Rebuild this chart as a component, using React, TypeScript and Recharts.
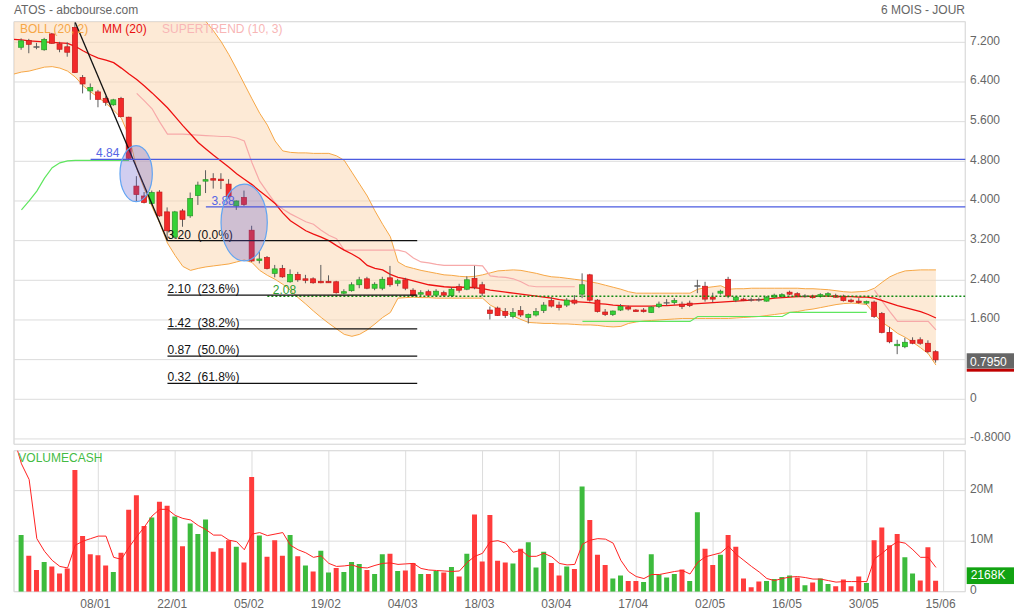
import React from 'react';
import {
  ComposedChart, Bar, Line, Area, XAxis, YAxis, CartesianGrid, ReferenceLine, ReferenceArea, Cell,
} from 'recharts';

const _ = null;

// x axis: one slot per trading session, labels every 10 sessions
const DATES = ['08/01', '22/01', '05/02', '19/02', '04/03', '18/03', '03/04', '17/04', '02/05', '16/05', '30/05', '15/06'];
const DATE_IDX = [10, 20, 30, 40, 50, 60, 70, 80, 90, 100, 110, 120];
const PRICE_TICKS = [-0.8, 0, 0.8, 1.6, 2.4, 3.2, 4.0, 4.8, 5.6, 6.4, 7.2];
const VOL_TICKS = [0, 10, 20];

// candles (sessions 0..119)
const OPEN = [
  7.10, 7.24, 7.11, 7.05, 7.37, 7.17, 7.11, 7.50, 6.49, 6.22,
  6.20, 6.07, 5.94, 6.07, 5.69, 4.30, 4.10, 3.95, 4.18, 3.78,
  3.27, 3.80, 3.70, 4.11, 4.41, 4.45, 4.44, 4.34, 3.90, 4.07,
  3.41, 2.80, 2.86, 2.54, 2.64, 2.37, 2.52, 2.43, 2.43, 2.38,
  2.38, 2.37, 2.14, 2.19, 2.31, 2.43, 2.24, 2.24, 2.45, 2.34,
  2.41, 2.20, 2.12, 2.17, 2.10, 2.15, 2.09, 2.27, 2.22, 2.44,
  2.31, 1.80, 1.84, 1.77, 1.67, 1.79, 1.65, 1.70, 1.79, 1.99,
  1.90, 1.90, 2.00, 2.12, 2.51, 2.00, 1.76, 1.71, 1.80, 1.86,
  1.80, 1.80, 1.75, 1.87, 1.94, 1.95, 1.92, 1.94, 2.28, 2.28,
  2.06, 2.14, 2.42, 2.00, 2.02, 2.01, 2.00, 1.98, 2.06, 2.08,
  2.16, 2.13, 2.08, 2.08, 2.07, 2.10, 2.09, 2.08, 2.00, 1.98,
  1.94, 1.96, 1.73, 1.35, 1.08, 1.06, 1.19, 1.20, 1.13, 0.96,
];
const HIGH = [
  7.28, 7.27, 7.19, 7.29, 7.39, 7.21, 7.20, 7.60, 6.54, 6.37,
  6.24, 6.11, 6.06, 6.10, 5.70, 4.50, 4.18, 4.21, 4.22, 3.87,
  3.80, 3.84, 4.17, 4.39, 4.62, 4.56, 4.56, 4.44, 4.01, 4.21,
  3.50, 2.98, 2.89, 2.71, 2.71, 2.62, 2.57, 2.51, 2.46, 2.71,
  2.50, 2.39, 2.22, 2.36, 2.47, 2.47, 2.36, 2.47, 2.69, 2.43,
  2.45, 2.24, 2.20, 2.21, 2.22, 2.19, 2.26, 2.33, 2.48, 2.69,
  2.37, 1.87, 1.87, 1.84, 1.84, 1.88, 1.73, 1.84, 1.96, 2.06,
  1.97, 2.04, 2.10, 2.54, 2.53, 2.02, 1.82, 1.79, 1.92, 1.89,
  1.82, 1.84, 1.88, 1.97, 2.02, 2.04, 1.97, 1.99, 2.41, 2.37,
  2.15, 2.21, 2.47, 2.07, 2.05, 2.05, 2.05, 2.08, 2.13, 2.14,
  2.19, 2.16, 2.12, 2.11, 2.14, 2.16, 2.13, 2.11, 2.03, 2.04,
  1.99, 1.99, 1.76, 1.46, 1.20, 1.24, 1.25, 1.25, 1.19, 0.99,
];
const LOW = [
  7.05, 6.98, 7.06, 7.03, 7.17, 7.00, 6.91, 6.58, 6.17, 6.04,
  5.89, 5.92, 5.92, 5.69, 4.84, 3.99, 3.95, 3.93, 3.68, 3.20,
  3.24, 3.48, 3.66, 3.92, 4.16, 4.25, 4.24, 4.05, 3.82, 3.90,
  2.77, 2.74, 2.62, 2.46, 2.45, 2.35, 2.37, 2.34, 2.33, 2.34,
  2.35, 2.13, 2.12, 2.17, 2.24, 2.22, 2.20, 2.20, 2.27, 2.28,
  2.20, 2.07, 2.08, 2.08, 2.08, 2.07, 2.06, 2.15, 2.20, 2.22,
  2.08, 1.61, 1.68, 1.64, 1.63, 1.66, 1.53, 1.67, 1.74, 1.85,
  1.79, 1.86, 1.91, 2.04, 1.97, 1.75, 1.68, 1.68, 1.78, 1.79,
  1.77, 1.75, 1.74, 1.84, 1.89, 1.91, 1.82, 1.86, 2.14, 1.97,
  1.96, 2.11, 2.04, 1.96, 1.98, 1.97, 1.97, 1.97, 2.04, 2.05,
  2.10, 2.06, 2.05, 2.03, 2.05, 2.08, 2.05, 1.97, 1.95, 1.93,
  1.91, 1.64, 1.33, 1.13, 0.91, 1.03, 1.11, 1.10, 0.93, 0.74,
];
const CLOSE = [
  7.23, 7.16, 7.10, 7.26, 7.18, 7.06, 7.00, 6.59, 6.36, 6.29,
  6.05, 5.99, 6.04, 5.70, 4.86, 4.13, 3.97, 4.17, 3.70, 3.40,
  3.78, 3.63, 4.05, 4.32, 4.43, 4.43, 4.41, 4.09, 4.00, 3.93,
  2.79, 2.83, 2.64, 2.63, 2.47, 2.52, 2.41, 2.41, 2.35, 2.36,
  2.36, 2.15, 2.17, 2.31, 2.41, 2.24, 2.32, 2.42, 2.31, 2.39,
  2.24, 2.10, 2.15, 2.10, 2.18, 2.10, 2.22, 2.20, 2.41, 2.26,
  2.14, 1.73, 1.69, 1.69, 1.75, 1.70, 1.71, 1.77, 1.90, 1.88,
  1.85, 2.00, 1.94, 2.31, 2.00, 1.77, 1.71, 1.78, 1.87, 1.82,
  1.78, 1.77, 1.86, 1.92, 1.95, 1.99, 1.87, 1.89, 2.29, 2.02,
  2.02, 2.18, 2.08, 2.06, 1.99, 2.00, 2.01, 2.06, 2.10, 2.11,
  2.12, 2.08, 2.08, 2.05, 2.11, 2.13, 2.06, 1.99, 1.97, 1.95,
  1.97, 1.67, 1.35, 1.16, 1.11, 1.15, 1.13, 1.13, 0.96, 0.795,
];

// indicators, sessions -1..119 (first value sits just left of the first candle)
const BOLL_UP = [
  7.96,
  7.90, 7.84, 7.78, 7.72, 7.69, 7.70, 7.74, 7.74, 7.73, 7.70,
  7.67, 7.71, 7.75, 7.71, 7.87, 8.35, 8.39, 8.44, 8.51, 8.56,
  8.48, 8.34, 8.10, 7.80, 7.62, 7.43, 7.21, 6.95, 6.66, 6.36,
  6.06, 5.77, 5.53, 5.21, 5.01, 4.98, 4.97, 4.97, 4.96, 4.96,
  4.96, 4.91, 4.82, 4.58, 4.34, 4.10, 3.80, 3.53, 3.28, 2.77,
  2.68, 2.64, 2.60, 2.57, 2.54, 2.51, 2.50, 2.48, 2.47, 2.48,
  2.51, 2.55, 2.59, 2.60, 2.61, 2.60, 2.57, 2.54, 2.50, 2.47,
  2.46, 2.44, 2.42, 2.40, 2.37, 2.34, 2.30, 2.26, 2.22, 2.17,
  2.14, 2.14, 2.14, 2.14, 2.14, 2.14, 2.14, 2.14, 2.22, 2.25,
  2.27, 2.29, 2.22, 2.23, 2.23, 2.24, 2.24, 2.24, 2.24, 2.24,
  2.24, 2.24, 2.23, 2.23, 2.22, 2.21, 2.19, 2.17, 2.16, 2.17,
  2.18, 2.24, 2.36, 2.47, 2.54, 2.59, 2.60, 2.61, 2.61, 2.61,
];
const BOLL_LOW = [
  6.56,
  6.60, 6.62, 6.66, 6.70, 6.71, 6.68, 6.62, 6.50, 6.33, 6.20,
  6.09, 5.97, 5.83, 5.67, 5.31, 4.65, 4.24, 3.88, 3.55, 3.15,
  2.90, 2.68, 2.60, 2.64, 2.67, 2.69, 2.71, 2.73, 2.77, 2.81,
  2.76, 2.60, 2.50, 2.42, 2.32, 2.20, 2.05, 1.92, 1.78, 1.65,
  1.53, 1.42, 1.31, 1.27, 1.31, 1.40, 1.52, 1.65, 1.75, 2.04,
  2.05, 2.06, 2.05, 2.05, 2.04, 2.04, 2.04, 2.04, 2.04, 2.04,
  2.04, 1.90, 1.82, 1.75, 1.68, 1.61, 1.55, 1.54, 1.53, 1.53,
  1.52, 1.52, 1.51, 1.50, 1.50, 1.49, 1.47, 1.46, 1.47, 1.53,
  1.56, 1.58, 1.59, 1.60, 1.61, 1.62, 1.63, 1.63, 1.63, 1.63,
  1.63, 1.63, 1.63, 1.64, 1.65, 1.66, 1.67, 1.69, 1.71, 1.73,
  1.75, 1.77, 1.80, 1.82, 1.85, 1.88, 1.91, 1.93, 1.94, 1.93,
  1.91, 1.72, 1.55, 1.45, 1.33, 1.25, 1.15, 1.04, 0.92, 0.69,
];
const MM20 = [
  7.26,
  7.25, 7.23, 7.22, 7.21, 7.20, 7.19, 7.18, 7.12, 7.03, 6.95,
  6.88, 6.84, 6.79, 6.68, 6.56, 6.45, 6.32, 6.18, 6.03, 5.88,
  5.70, 5.52, 5.35, 5.18, 5.05, 4.92, 4.80, 4.68, 4.55, 4.44,
  4.33, 4.20, 4.08, 3.95, 3.76, 3.60, 3.50, 3.40, 3.33, 3.27,
  3.20, 3.10, 3.01, 2.93, 2.84, 2.70, 2.64, 2.61, 2.52, 2.46,
  2.43, 2.39, 2.35, 2.31, 2.29, 2.27, 2.26, 2.26, 2.26, 2.25,
  2.23, 2.20, 2.18, 2.16, 2.14, 2.12, 2.10, 2.08, 2.06, 2.04,
  2.01, 1.99, 1.97, 1.96, 1.95, 1.93, 1.92, 1.90, 1.89, 1.88,
  1.88, 1.88, 1.88, 1.89, 1.89, 1.90, 1.91, 1.92, 1.93, 1.94,
  1.95, 1.96, 1.97, 1.98, 1.99, 2.00, 2.01, 2.02, 2.04, 2.05,
  2.06, 2.07, 2.07, 2.08, 2.08, 2.08, 2.07, 2.07, 2.07, 2.06,
  2.06, 2.04, 1.99, 1.94, 1.89, 1.85, 1.81, 1.77, 1.71, 1.64,
];

// supertrend (sessions 0..119), bullish and bearish legs
const ST_GREEN = [
  3.82, 4.00, 4.20, 4.46, 4.67, 4.77, 4.81, 4.82, 4.82, 4.82,
  4.82, 4.82, 4.82, 4.82, 4.82, _, _, _, _, _,
  _, _, _, _, _, _, _, _, _, _,
  _, _, _, _, _, _, _, _, _, _,
  _, _, _, _, _, _, _, _, _, _,
  _, _, _, _, _, _, _, _, _, _,
  _, _, _, _, _, _, _, _, _, _,
  _, _, _, 1.57, 1.57, 1.57, 1.57, 1.57, 1.57, 1.57,
  1.57, 1.57, 1.57, 1.57, 1.57, 1.57, 1.57, 1.57, 1.67, 1.67,
  1.67, 1.67, 1.67, 1.67, 1.67, 1.67, 1.67, 1.67, 1.67, 1.67,
  1.755, 1.755, 1.755, 1.755, 1.755, 1.755, 1.755, 1.755, 1.755, 1.755,
  1.755, _, _, _, _, _, _, _, _, _,
];
const ST_PINK = [
  _, _, _, _, _, _, _, _, _, _,
  _, _, _, _, _, 6.17, 6.02, 5.86, 5.59, 5.35,
  5.35, 5.35, 5.34, 5.33, 5.32, 5.31, 5.30, 5.30, 5.27, 5.21,
  4.77, 4.40, 4.18, 3.96, 3.84, 3.74, 3.66, 3.58, 3.53, 3.41,
  3.31, 3.24, 3.01, 3.01, 3.01, 3.01, 3.01, 3.01, 3.01, 3.01,
  2.97, 2.85, 2.77, 2.75, 2.72, 2.70, 2.70, 2.70, 2.70, 2.70,
  2.69, 2.49, 2.47, 2.46, 2.43, 2.37, 2.29, 2.27, 2.27, 2.27,
  2.27, 2.27, 2.27, _, _, _, _, _, _, _,
  _, _, _, _, _, _, _, _, _, _,
  _, _, _, _, _, _, _, _, _, _,
  _, _, _, _, _, _, _, _, _, _,
  _, 2.20, 1.98, 1.77, 1.57, 1.57, 1.57, 1.57, 1.57, 1.40,
];

// volume in millions (sessions 0..119) and its colour, g = up, r = down
const VOLUME = [
  11.2, 7.1, 4.3, 5.9, 5.0, 3.6, 4.6, 24.1, 11.0, 7.4,
  7.2, 5.2, 3.9, 7.7, 16.2, 19.1, 13.0, 14.7, 17.8, 17.0,
  14.9, 9.0, 13.5, 11.4, 14.3, 7.9, 8.6, 10.2, 8.9, 5.8,
  22.7, 11.1, 6.9, 10.2, 7.1, 11.2, 7.0, 5.2, 4.0, 8.1,
  3.8, 4.7, 3.9, 5.9, 5.5, 4.3, 3.5, 7.4, 7.5, 4.1,
  4.2, 5.7, 3.5, 3.5, 4.1, 3.8, 4.9, 3.0, 7.5, 15.3,
  6.0, 15.2, 6.1, 5.8, 5.6, 8.5, 9.8, 4.8, 7.9, 5.7,
  3.2, 5.0, 4.5, 20.8, 14.2, 7.3, 5.3, 2.6, 3.2, 2.1,
  2.1, 1.9, 7.4, 3.4, 2.8, 3.5, 4.4, 2.1, 15.7, 8.5,
  5.3, 7.3, 11.2, 8.9, 2.6, 0.9, 2.0, 2.1, 2.5, 2.9,
  3.2, 2.8, 1.3, 1.8, 2.6, 1.5, 1.1, 2.4, 1.1, 3.0,
  1.7, 10.2, 12.7, 9.2, 11.4, 6.8, 3.6, 2.2, 8.8, 2.168,
];
const VOL_DIR = (
  'grrgrrrrrr' + 'rrgrrrrgrr' + 'grgggrrrgr' + 'rgrrrgrgrg' +
  'grgggrggrg' + 'rrgrgrgrgr' + 'rrrrgrgggr' + 'rgrgrrrggr' +
  'rgggggrggr' + 'rgrrrrrggg' + 'grgrggrrrr' + 'grrrrggrrr'
).split('');
// volume average line, sessions -1..119
const VOL_MA = [
  30.5,
  25.3, 22.2, 10.5, 8.0, 6.2, 5.0, 4.7, 9.2, 10.0, 10.5,
  11.0, 11.0, 6.8, 6.4, 8.8, 10.9, 12.8, 15.0, 16.3, 16.3,
  15.1, 14.5, 14.2, 13.1, 12.3, 11.2, 11.2, 10.2, 9.9, 8.3,
  11.4, 11.7, 11.1, 11.4, 11.7, 9.2, 8.3, 7.7, 6.8, 7.1,
  5.6, 5.0, 5.1, 5.3, 4.8, 4.7, 5.2, 5.6, 5.7, 5.4,
  5.5, 5.6, 4.6, 4.3, 4.2, 4.1, 4.0, 4.1, 5.8, 7.0,
  7.6, 9.9, 10.1, 9.6, 7.8, 8.2, 7.0, 7.0, 7.6, 6.9,
  5.6, 5.3, 5.4, 9.4, 10.2, 10.5, 10.4, 9.6, 6.2, 4.0,
  3.0, 2.6, 3.4, 3.4, 3.7, 4.0, 4.2, 3.5, 5.8, 6.9,
  7.3, 7.7, 9.0, 7.4, 6.2, 5.0, 3.9, 2.6, 2.2, 2.6,
  2.9, 3.0, 2.8, 2.5, 2.5, 2.2, 1.9, 2.0, 2.0, 2.0,
  2.0, 6.5, 7.6, 8.9, 9.9, 9.6, 8.3, 6.8, 6.8, 4.8,
];

// drawings on the price panel (data units)
const TREND = [{ x: 7, y: 7.6 }, { x: 19, y: 3.2 }];
const FIB_LEVELS = [3.20, 2.10, 1.42, 0.87, 0.32];
const FIB_PCT = ['0.0%', '23.6%', '38.2%', '50.0%', '61.8%'];
const FIB_FROM = 19;
const FIB_TO = 51.5;
const BLUE_LEVELS = [4.84, 3.88];
const BLUE_FROM = [9, 24];
const GREEN_LEVEL = 2.08;
const GREEN_FROM = 32;
const ELLIPSES = [
  { x1: 12.82, x2: 17.03, y1: 3.985, y2: 5.115 },
  { x1: 25.97, x2: 31.99, y1: 2.79, y2: 4.34 },
];

const X_MIN = -0.97;
const X_MAX = 122.82;
const P_MIN = -0.908;
const P_MAX = 7.616;
const V_MAX = 27.9;

const N = CLOSE.length;
const rows: any[] = [];
for (let k = -1; k < N; k++) {
  const j = k + 1;
  const r: any = { i: k, up: BOLL_UP[j], lo: BOLL_LOW[j], band: [BOLL_LOW[j], BOLL_UP[j]], mm: MM20[j], volMa: VOL_MA[j] };
  if (k >= 0) {
    r.o = OPEN[k]; r.h = HIGH[k]; r.l = LOW[k]; r.c = CLOSE[k];
    r.range = [LOW[k], HIGH[k]];
    r.stG = ST_GREEN[k]; r.stP = ST_PINK[k];
    r.vol = VOLUME[k]; r.volUp = VOL_DIR[k] === 'g';
  }
  rows.push(r);
}

const GRID = '#dcdcdc';
const TXT = '#666';
const FONT = '"Liberation Sans", Arial, sans-serif';

function Candle(props: any) {
  const { x, y, width, height, payload } = props;
  if (!payload || payload.h == null || !height) return <g />;
  const top0 = height < 0 ? y + height : y;
  const hh = Math.abs(height);
  const { o, h, l, c } = payload;
  const k = hh / (h - l);
  const py = (v: number) => top0 + (h - v) * k;
  const mid = x + width / 2;
  const top = py(Math.max(o, c));
  const bot = py(Math.min(o, c));
  const flat = Math.abs(c - o) < 0.015;
  const up = c > o;
  return (
    <g>
      <line x1={mid} x2={mid} y1={top0} y2={top0 + hh} stroke="#5c5c5c" strokeWidth={1} />
      {flat ? (
        <line x1={x - 0.5} x2={x + width + 0.5} y1={(top + bot) / 2} y2={(top + bot) / 2} stroke="#5c5c5c" strokeWidth={1.4} />
      ) : (
        <rect x={x} y={top} width={width} height={Math.max(bot - top, 1.5)}
          fill={up ? '#36d136' : '#f22a2a'} stroke={up ? '#269a26' : '#c41818'} strokeWidth={0.7} />
      )}
    </g>
  );
}

function fmtPrice(v: number) {
  if (v === 0) return '0';
  if (v < 0) return v.toFixed(4);
  return v.toFixed(3);
}

const PriceTick = (p: any) => {
  const v = p.payload.value;
  // the 0.800 label sits behind the last-price badge
  if (Math.abs(v - 0.8) < 1e-6) return <g />;
  return <text x={p.x + 4.7} y={p.y + 2.3} fill={TXT} fontSize={12}>{fmtPrice(v)}</text>;
};

const VolTick = (p: any) => {
  const v = p.payload.value;
  return <text x={p.x + 4.7} y={p.y + 2.3} fill={TXT} fontSize={12}>{v === 0 ? '0' : `${v}M`}</text>;
};

const DateTick = (p: any) => {
  const idx = DATE_IDX.indexOf(p.payload.value);
  return <text x={p.x - 3} y={p.y + 16.2} textAnchor="middle" fill={TXT} fontSize={12}>{DATES[idx]}</text>;
};

const EllipseShape = (p: any) => (
  <ellipse cx={p.x + p.width / 2} cy={p.y + p.height / 2} rx={Math.abs(p.width) / 2} ry={Math.abs(p.height) / 2}
    fill="#5a50c8" fillOpacity={0.28} stroke="#62a4f2" strokeWidth={1.2} />
);

const lastLabel = (p: any) => {
  const vb = p.viewBox;
  const x0 = vb.x + vb.width + 1.4;
  return (
    <g>
      <rect x={x0} y={vb.y - 6.6} width={48} height={15.4} fill="#666" />
      <rect x={x0} y={vb.y + 9} width={48} height={2.8} fill="#c00000" />
      <text x={x0 + 3.4} y={vb.y + 6.1} fill="#fff" fontSize={12}>{CLOSE[N - 1].toFixed(4)}</text>
    </g>
  );
};

const volLabel = (p: any) => {
  const vb = p.viewBox;
  const x0 = vb.x + vb.width + 1.4;
  return (
    <g>
      <rect x={x0} y={vb.y - 13.4} width={48} height={16.7} fill="#12a312" />
      <text x={x0 + 4} y={vb.y - 1.4} fill="#fff" fontSize={12}>{`${Math.round(VOLUME[N - 1] * 1000)}K`}</text>
    </g>
  );
};

const levelLabel = (text: string, color: string) => (p: any) => (
  <text x={p.viewBox.x + 5.5} y={p.viewBox.y - 2.2} fill={color} fontSize={12} style={{ whiteSpace: 'pre' }}>{text}</text>
);

const fibLabel = (text: string) => (p: any) => (
  <text x={p.viewBox.x} y={p.viewBox.y - 2} fill="#111" fontSize={12} style={{ whiteSpace: 'pre' }}>{text}</text>
);

export default function App() {
  return (
    <div style={{ position: 'absolute', left: 0, top: 0, width: 1014, height: 614, background: '#fff', fontFamily: FONT }}>
      <div style={{ position: 'absolute', left: 0, top: 0 }}>
        <ComposedChart width={1014} height={446} data={rows} margin={{ top: 21.7, right: 0, bottom: 1.7, left: 14 }}>
          <CartesianGrid stroke={GRID} />
          <XAxis dataKey="i" type="number" domain={[X_MIN, X_MAX]} allowDataOverflow ticks={DATE_IDX} interval={0}
            height={0} tick={false} axisLine={false} tickLine={false} />
          <YAxis orientation="right" domain={[P_MIN, P_MAX]} allowDataOverflow ticks={PRICE_TICKS} interval={0}
            width={48.7} tickSize={0} tickMargin={0} axisLine={false} tickLine={false} tick={<PriceTick />} />
          <ReferenceArea x1={X_MIN} x2={X_MAX} y1={P_MIN} y2={P_MAX} fill="none" stroke={GRID} ifOverflow="visible" />

          <Area dataKey="band" stroke="none" fill="#fbd9b5" fillOpacity={0.55} isAnimationActive={false} zIndex={100} />
          <Line dataKey="up" stroke="#f6a746" strokeWidth={1} dot={false} isAnimationActive={false} zIndex={200} />
          <Line dataKey="lo" stroke="#f6a746" strokeWidth={1} dot={false} isAnimationActive={false} zIndex={200} />
          <Line dataKey="stP" stroke="#f7a9a9" strokeWidth={1.2} dot={false} isAnimationActive={false} zIndex={200} />
          <Line dataKey="stG" stroke="#5fe65f" strokeWidth={1.2} dot={false} isAnimationActive={false} zIndex={200} />
          <Line dataKey="mm" stroke="#ee1111" strokeWidth={1.3} dot={false} isAnimationActive={false} zIndex={200} />
          <Bar dataKey="range" barSize={5} shape={<Candle />} isAnimationActive={false} zIndex={300} />

          <ReferenceLine segment={[{ x: GREEN_FROM, y: GREEN_LEVEL }, { x: X_MAX + 5, y: GREEN_LEVEL }]}
            stroke="#138a13" strokeWidth={1.5} strokeDasharray="2 2" ifOverflow="hidden"
            label={levelLabel(GREEN_LEVEL.toFixed(2), '#2e9e2e')} zIndex={400} />
          {FIB_LEVELS.map((v, n) => (
            <ReferenceLine key={`f${n}`} segment={[{ x: FIB_FROM, y: v }, { x: FIB_TO, y: v }]}
              stroke="#111" strokeWidth={1.2} ifOverflow="hidden"
              label={fibLabel(`${v.toFixed(2)}  (${FIB_PCT[n]})`)} zIndex={400} />
          ))}
          <ReferenceLine segment={TREND} stroke="#111" strokeWidth={1.3} ifOverflow="hidden" zIndex={400} />
          {BLUE_LEVELS.map((v, n) => (
            <ReferenceLine key={`b${n}`} segment={[{ x: BLUE_FROM[n], y: v }, { x: X_MAX + 5, y: v }]}
              stroke="#4a5ae0" strokeWidth={1.2} ifOverflow="hidden"
              label={levelLabel(v.toFixed(2), '#5565e5')} zIndex={400} />
          ))}
          {ELLIPSES.map((e, n) => (
            <ReferenceArea key={`e${n}`} x1={e.x1} x2={e.x2} y1={e.y1} y2={e.y2} shape={EllipseShape} ifOverflow="visible" zIndex={500} />
          ))}
          <ReferenceLine y={CLOSE[N - 1]} stroke="none" label={lastLabel} zIndex={600} />
        </ComposedChart>
      </div>

      <div style={{ position: 'absolute', left: 0, top: 446 }}>
        <ComposedChart width={1014} height={168} data={rows} margin={{ top: 4.7, right: 0, bottom: 0, left: 14 }}>
          <CartesianGrid stroke={GRID} />
          <XAxis dataKey="i" type="number" domain={[X_MIN, X_MAX]} allowDataOverflow ticks={DATE_IDX} interval={0}
            height={22.3} tickSize={0} tickMargin={0} axisLine={false} tickLine={false} tick={<DateTick />} />
          <YAxis orientation="right" domain={[0, V_MAX]} allowDataOverflow ticks={VOL_TICKS} interval={0}
            width={48.7} tickSize={0} tickMargin={0} axisLine={false} tickLine={false} tick={<VolTick />} />
          <ReferenceArea x1={X_MIN} x2={X_MAX} y1={0} y2={V_MAX} fill="none" stroke={GRID} ifOverflow="visible" />
          <Bar dataKey="vol" barSize={5} isAnimationActive={false}>
            {rows.map((r) => (
              <Cell key={r.i} fill={r.volUp ? '#3dbb3d' : '#ff3c3c'} />
            ))}
          </Bar>
          <Line dataKey="volMa" stroke="#ff2222" strokeWidth={1} dot={false} isAnimationActive={false} />
          <ReferenceLine y={VOLUME[N - 1]} stroke="none" label={volLabel} />
        </ComposedChart>
      </div>

      <svg width={1014} height={614} style={{ position: 'absolute', left: 0, top: 0, pointerEvents: 'none' }}>
        <text x={14} y={13.6} fill={TXT} fontSize={12}>ATOS - abcbourse.com</text>
        <text x={965} y={13.6} fill={TXT} fontSize={12} textAnchor="end">6 MOIS - JOUR</text>
        <text x={20} y={33.3} fill="#f6a746" fontSize={12}>BOLL (20, 2)</text>
        <text x={102} y={33.3} fill="#e81010" fontSize={12}>MM (20)</text>
        <text x={162} y={33.3} fill="#f8b6b6" fontSize={12}>SUPERTREND (10, 3)</text>
        <text x={18.3} y={462.3} fill="#44bb44" fontSize={12}>VOLUMECASH</text>
      </svg>
    </div>
  );
}
